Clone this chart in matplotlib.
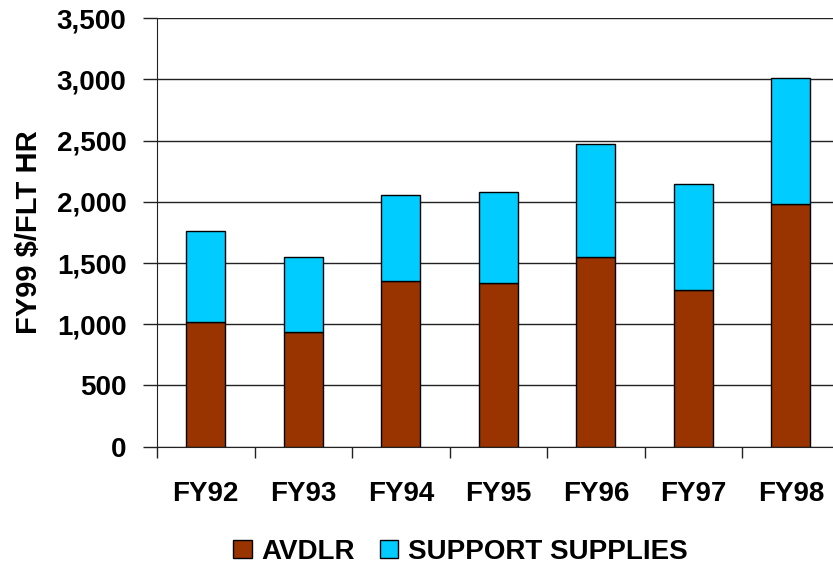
import matplotlib
matplotlib.use("Agg")
import matplotlib.pyplot as plt
import numpy as np
from matplotlib.patches import Patch

plt.rcParams['font.family'] = ['Liberation Sans', 'DejaVu Sans']
plt.rcParams['font.weight'] = 'bold'

years = ['FY92', 'FY93', 'FY94', 'FY95', 'FY96', 'FY97', 'FY98']
avdlr = [1015, 940, 1350, 1340, 1550, 1280, 1980]
support = [745, 610, 710, 740, 925, 865, 1030]

brown = '#993300'
cyan = '#00CCFF'

fig = plt.figure(figsize=(8.33, 5.66), dpi=100)
ax = fig.add_axes([0.1885, 0.2108, 0.8195, 0.757])

x = np.arange(len(years))
ax.bar(x, avdlr, width=0.4, color=brown, edgecolor='black', linewidth=1, zorder=3)
ax.bar(x, support, width=0.4, bottom=avdlr, color=cyan, edgecolor='black',
       linewidth=1, zorder=3)

ax.set_xlim(-0.5, len(years) - 0.5)
ax.set_ylim(0, 3500)
ax.set_yticks(np.arange(0, 3501, 500))
ax.set_yticklabels([f'{v:,}' for v in range(0, 3501, 500)], fontsize=20, fontweight='bold')
ax.yaxis.grid(True, color='#222222', linewidth=1, zorder=0)
ax.tick_params(axis='y', length=10, width=1, pad=12, color='#222222')

# labels sit under the bars, tick marks at the category boundaries
ax.set_xticks(x)
ax.set_xticklabels(years, fontsize=20, fontweight='bold')
ax.tick_params(axis='x', which='major', length=0, pad=25)
ax.set_xticks(np.arange(-0.5, len(years), 1.0), minor=True)
ax.tick_params(axis='x', which='minor', length=8, width=1, color='#222222')

for side in ['top', 'right']:
    ax.spines[side].set_visible(False)
ax.spines['left'].set_color('#222222')
ax.spines['bottom'].set_color('#222222')

ax.set_ylabel('FY99 $/FLT HR', fontsize=21, fontweight='bold', labelpad=10)

handles = [Patch(facecolor=brown, edgecolor='black', label='AVDLR'),
           Patch(facecolor=cyan, edgecolor='black', label='SUPPORT SUPPLIES')]
fig.legend(handles=handles, loc='center', bbox_to_anchor=(0.553, 0.025), ncol=2,
           frameon=False, fontsize=20, handlelength=0.65, handleheight=0.65,
           handletextpad=0.36, columnspacing=0.9, borderpad=0)

fig.savefig('out.png', dpi=100)
